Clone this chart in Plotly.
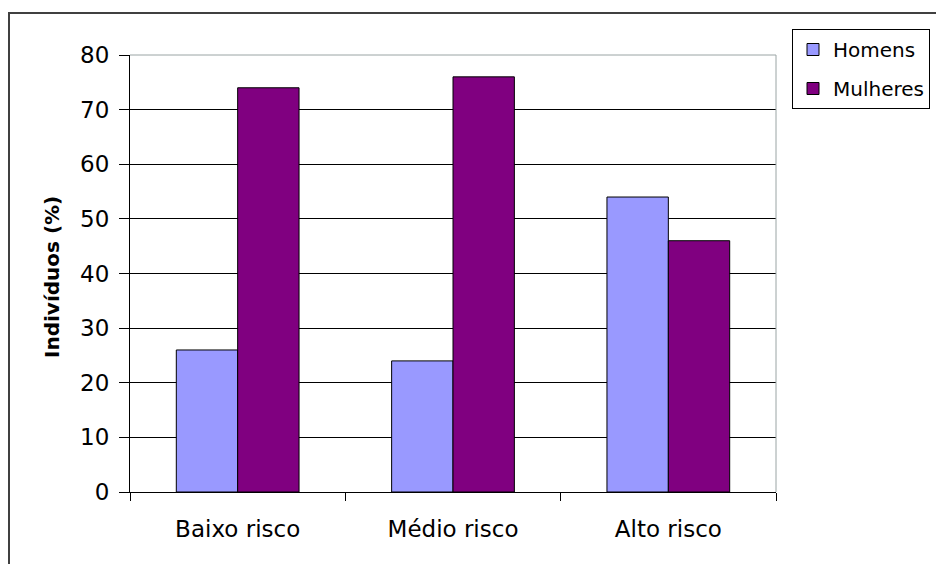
import plotly.graph_objects as go

categories = ["Baixo risco", "Médio risco", "Alto risco"]
homens = [26, 24, 54]
mulheres = [74, 76, 46]
series_names = ["Homens", "Mulheres"]
y_ticks = [0, 10, 20, 30, 40, 50, 60, 70, 80]

OFF = 8  # page body margin in the browser
W, H = 944 - OFF, 564 - OFF
# plot-area bounds in reference-image pixels
RL, RR, RT, RB = 130, 776, 55, 492
L, R, T, B = RL - OFF, RR - OFF, RT - OFF, RB - OFF

def px_x(px):  # reference x pixel -> paper
    return (px - RL) / (RR - RL)

def px_y(py):  # reference y pixel -> paper
    return (RB - py) / (RB - RT)

FONT = "DejaVu Sans, Arial, sans-serif"

fig = go.Figure()
fig.add_trace(go.Bar(x=categories, y=homens, name=series_names[0], legendgroup="h",
                     marker=dict(color="#9999FF", line=dict(color="black", width=1))))
fig.add_trace(go.Bar(x=categories, y=mulheres, name=series_names[1], legendgroup="m",
                     marker=dict(color="#800080", line=dict(color="black", width=1))))

fig.update_layout(
    width=W, height=H,
    margin=dict(l=L, r=W - R, t=T, b=H - B, pad=0, autoexpand=False),
    paper_bgcolor="white", plot_bgcolor="white",
    barmode="group", bargap=0.43, bargroupgap=0,
    font=dict(family=FONT, size=23, color="black"),
    showlegend=True,
    legend=dict(x=px_x(792), y=px_y(29), xanchor="left", yanchor="top",
                bordercolor="black", borderwidth=1, bgcolor="white",
                font=dict(size=20, family=FONT), traceorder="grouped",
                tracegroupgap=10, itemwidth=30),
    xaxis=dict(type="category", showgrid=False, showline=True, linecolor="black",
               linewidth=1, ticks="outside", tickson="boundaries", ticklen=8,
               tickcolor="black", tickfont=dict(size=23), ticklabelstandoff=16,
               zeroline=False),
    yaxis=dict(range=[0, 80], tickvals=y_ticks, showgrid=True, gridcolor="black",
               gridwidth=1, showline=True, linecolor="black", linewidth=1,
               ticks="outside", ticklen=10, tickcolor="black",
               tickfont=dict(size=23), ticklabelstandoff=5, zeroline=False),
    shapes=[
        dict(type="line", xref="paper", yref="paper", x0=0, x1=1, y0=1, y1=1,
             line=dict(color="#9aa4a4", width=1)),
        dict(type="line", xref="paper", yref="paper", x0=1, x1=1, y0=0, y1=1,
             line=dict(color="#9aa4a4", width=1)),
        dict(type="rect", xref="paper", yref="paper",
             x0=px_x(9), x1=px_x(970), y0=px_y(590), y1=px_y(13),
             line=dict(color="#404040", width=2)),
    ],
    annotations=[
        dict(text="<b>Indivíduos (%)</b>", xref="paper", yref="paper",
             x=px_x(52), y=px_y(277), textangle=-90, showarrow=False,
             xanchor="center", yanchor="middle", font=dict(size=20, family=FONT)),
    ],
)

fig.write_html("out.html")
